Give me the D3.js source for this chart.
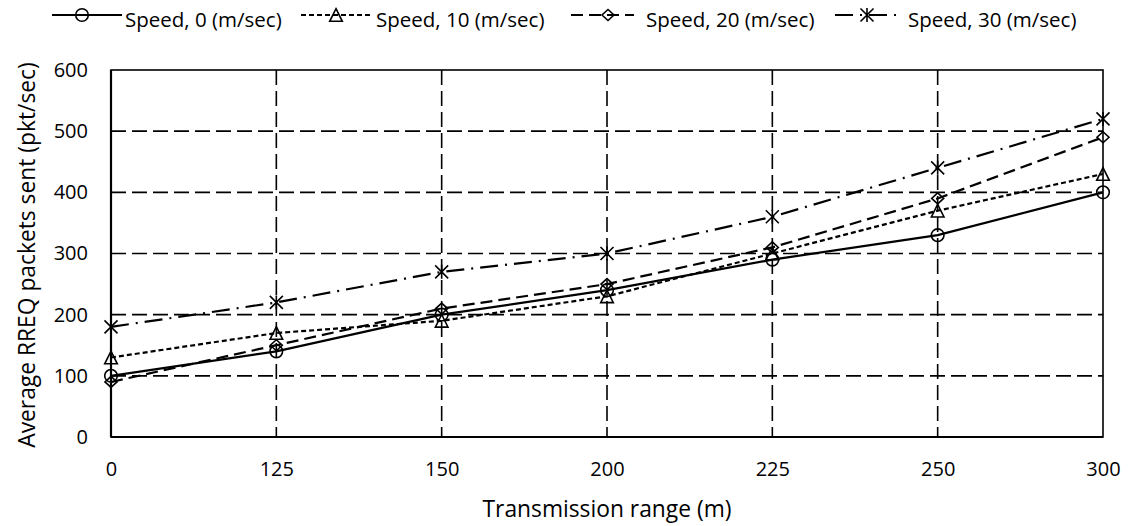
<!DOCTYPE html>
<html><head><meta charset="utf-8">
<script src="https://cdn.jsdelivr.net/npm/d3@7"></script>
<style>body{margin:0;background:#fff}svg{display:block}text{font-family:"Open Sans",sans-serif;fill:#000}</style>
</head><body><svg id="c" width="1129" height="526"></svg>
<script>
const categories = ["0","125","150","200","225","250","300"];
const seriesNames = ["Speed, 0 (m/sec)","Speed, 10 (m/sec)","Speed, 20 (m/sec)","Speed, 30 (m/sec)"];
const speed0  = [100,140,200,240,290,330,400];
const speed10 = [130,170,190,230,300,370,430];
const speed20 = [90,150,210,250,310,390,490];
const speed30 = [180,220,270,300,360,440,520];
const yTicks = [0,100,200,300,400,500,600];
const xTitle = "Transmission range (m)";
const yTitle = "Average RREQ packets sent (pkt/sec)";

const series = [
  {name:seriesNames[0], values:speed0, dash:null, marker:"circle"},
  {name:seriesNames[1], values:speed10, dash:"5,3", marker:"triangle"},
  {name:seriesNames[2], values:speed20, dash:"12,6", marker:"diamond"},
  {name:seriesNames[3], values:speed30, dash:"18,7,2,7", marker:"star"}
];

const svg = d3.select("#c");
const L=111,R=1103,T=70,B=437;
const x = d3.scalePoint().domain(categories).range([L,R]);
const y = d3.scaleLinear().domain([0,600]).range([B,T]);

// grid
const g = svg.append("g");
g.selectAll(".hg").data(yTicks.filter(d=>d>0&&d<600)).join("line")
  .attr("x1",L).attr("x2",R).attr("y1",d=>y(d)).attr("y2",d=>y(d))
  .attr("stroke","#000").attr("stroke-width",1.6).attr("stroke-dasharray","15,6");
g.selectAll(".vg").data(categories.slice(1,-1)).join("line")
  .attr("x1",d=>x(d)).attr("x2",d=>x(d)).attr("y1",T).attr("y2",B)
  .attr("stroke","#000").attr("stroke-width",1.6).attr("stroke-dasharray","15,6");
// border
g.append("rect").attr("x",L).attr("y",T).attr("width",R-L).attr("height",B-T)
  .attr("fill","none").attr("stroke","#000").attr("stroke-width",1.6);
g.append("line").attr("x1",L).attr("x2",L).attr("y1",T).attr("y2",B).attr("stroke","#000").attr("stroke-width",2.2);
g.append("line").attr("x1",L).attr("x2",R).attr("y1",B).attr("y2",B).attr("stroke","#000").attr("stroke-width",2.2);

// axes
const yAxis = d3.axisLeft(y).tickValues(yTicks).tickSize(0).tickPadding(23);
const ya = svg.append("g").attr("transform",`translate(${L},0)`).call(yAxis);
const xAxis = d3.axisBottom(x).tickSize(0).tickPadding(25);
const xa = svg.append("g").attr("transform",`translate(0,${B})`).call(xAxis);
[ya,xa].forEach(a=>{a.select(".domain").remove(); a.selectAll("text").style("font-size","20px").style("font-family","'Open Sans',sans-serif");});

svg.append("text").attr("x",607).attr("y",517).attr("text-anchor","middle").style("font-size","22.8px").text(xTitle);
svg.append("text").attr("transform",`translate(35,255) rotate(-90)`).attr("text-anchor","middle").style("font-size","22.8px").text(yTitle);

function drawMarker(sel, type, cx, cy){
  const s = 6.3;
  const sw = 1.6;
  if(type==="circle"){
    sel.append("circle").attr("cx",cx).attr("cy",cy).attr("r",s).attr("fill","none").attr("stroke","#000").attr("stroke-width",sw);
  } else if(type==="triangle"){
    sel.append("path").attr("d",`M${cx},${cy-s}L${cx+s},${cy+s}L${cx-s},${cy+s}Z`).attr("fill","none").attr("stroke","#000").attr("stroke-width",sw);
  } else if(type==="diamond"){
    sel.append("path").attr("d",`M${cx},${cy-5.5}L${cx+6},${cy}L${cx},${cy+5.5}L${cx-6},${cy}Z`).attr("fill","none").attr("stroke","#000").attr("stroke-width",sw);
  } else {
    sel.append("path").attr("d",`M${cx-6.5},${cy-6.5}L${cx+6.5},${cy+6.5}M${cx-6.5},${cy+6.5}L${cx+6.5},${cy-6.5}M${cx},${cy-7}L${cx},${cy+7}`).attr("fill","none").attr("stroke","#000").attr("stroke-width",sw);
  }
}

const line = d3.line().x((d,i)=>x(categories[i])).y(d=>y(d));
series.forEach(s=>{
  svg.append("path").datum(s.values).attr("d",line).attr("fill","none").attr("stroke","#000")
    .attr("stroke-width",2.2).attr("stroke-dasharray",s.dash);
  const mg = svg.append("g");
  s.values.forEach((v,i)=>drawMarker(mg,s.marker,x(categories[i]),y(v)));
});

// legend
const legendPos = [{x1:52,x2:122,m:82,tx:125,w:162},{x1:301,x2:373,m:336,tx:376,w:172},{x1:571,x2:634,m:608,tx:646,w:173},{x1:835,x2:903,m:867,tx:908,w:173}];
const ly = 15;
series.forEach((s,i)=>{
  const p = legendPos[i];
  const lg = svg.append("g");
  lg.append("line").attr("x1",p.x1).attr("x2",p.x2).attr("y1",ly).attr("y2",ly).attr("stroke","#000").attr("stroke-width",2.2).attr("stroke-dasharray",s.dash);
  drawMarker(lg,s.marker,p.m,ly);
  lg.append("text").attr("x",p.tx).attr("y",27).style("font-size","20.5px").text(s.name);
});
</script></body></html>
